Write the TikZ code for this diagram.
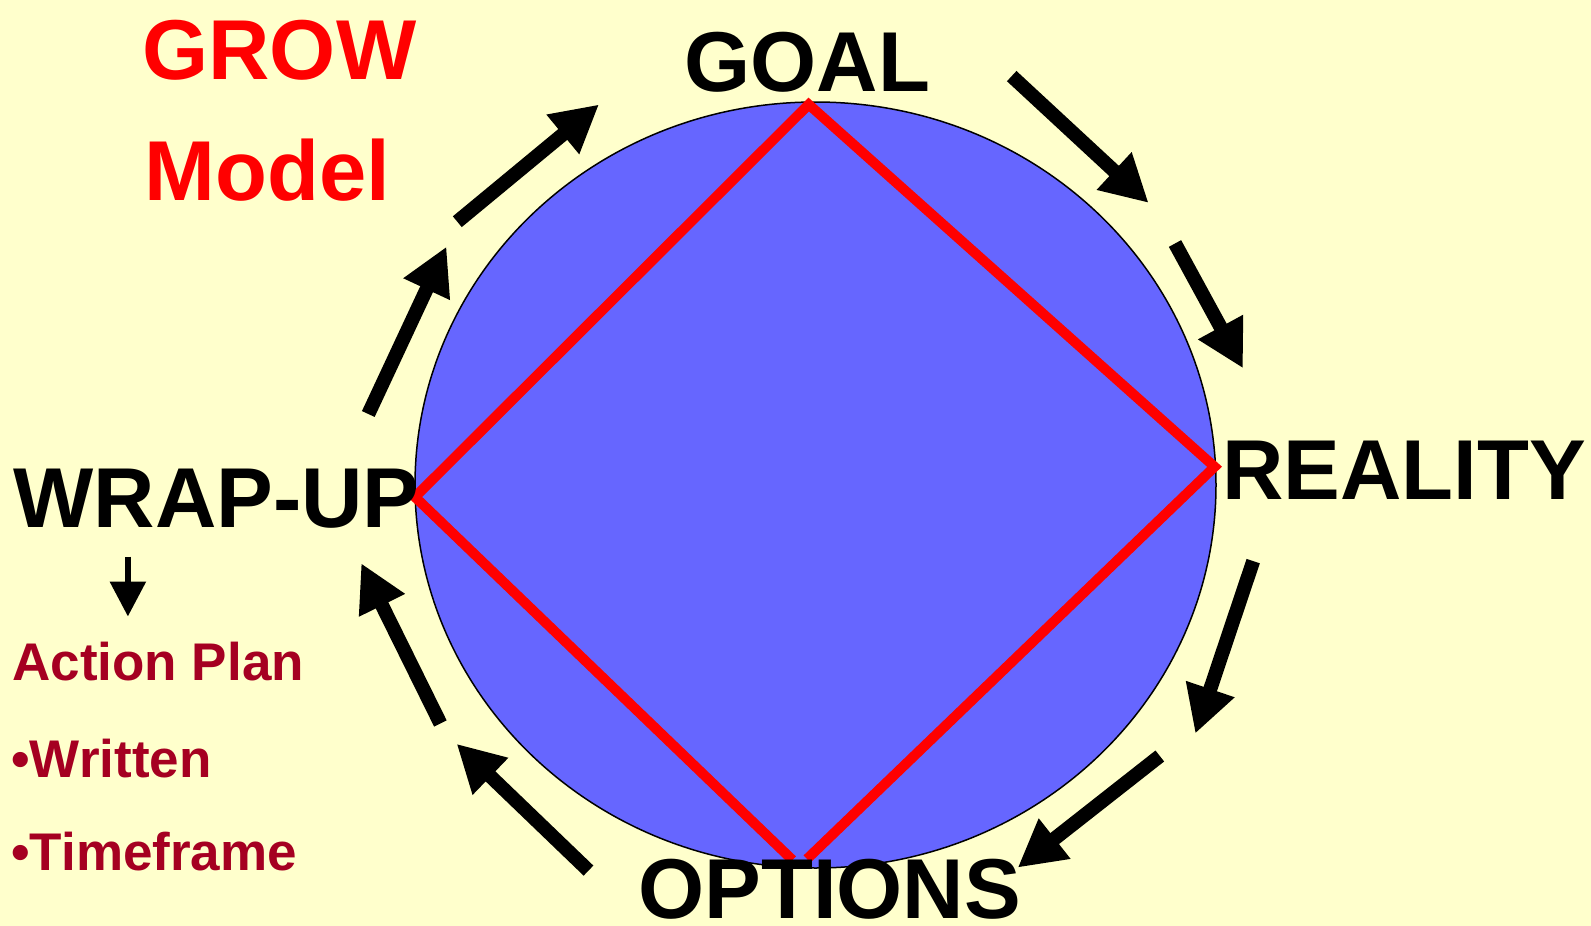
\documentclass[tikz,border=0pt]{standalone}
\usepackage{fontspec}
\setmainfont{Liberation Sans}
\usetikzlibrary{arrows.meta}
\definecolor{bgyellow}{HTML}{FFFFCC}
\definecolor{discblue}{HTML}{6666FF}
\definecolor{diamred}{HTML}{FF0000}
\definecolor{planred}{HTML}{A50021}
\tikzset{
  bigword/.style={anchor=base west, inner sep=0pt, font=\fontsize{42.5}{50}\selectfont\bfseries},
  titleword/.style={bigword, text=diamred},
  planword/.style={anchor=base west, inner sep=0pt, text=planred, font=\fontsize{26.5}{32}\selectfont\bfseries},
  cyclearrow/.style={line width=7pt, -{Triangle[length=23.5pt,width=24pt]}},
  smallarrow/.style={line width=3pt, -{Triangle[length=17.5pt,width=17.5pt]}},
  diamline/.style={draw=diamred, line width=5pt, line join=miter}
}
\begin{document}
\begin{tikzpicture}[x=0.5pt,y=-0.5pt]
\useasboundingbox (0,0) rectangle (1591,926);
\fill[bgyellow] (0,0) rectangle (1591,926);
% disc
\filldraw[fill=discblue, draw=black, line width=0.75pt] (815.5,485) ellipse [x radius=400.5, y radius=383];
% diamond
\coordinate (dl) at (415,497);
\coordinate (dt) at (808.7,104.5);
\coordinate (dr) at (1214.6,466.8);
\coordinate (dbl) at (792.5,860);
\coordinate (dbr) at (807,859);
\draw[diamline] (dbl) -- (dl) -- (dt) -- (dr) -- (dbr);
% texts
\node[titleword] (grow) at (142,79) {GROW};
\node[titleword] (model) at (144,200) {Model};
\node[bigword] (goal) at (684,91.3) {GOAL};
\node[bigword] (reality) at (1222,499) {REALITY};
\node[bigword] (wrapup) at (13,527.6) {WRAP-UP};
\node[bigword] (options) at (638,918) {OPTIONS};
\node[planword] (action) at (12,680) {Action Plan};
\node[planword] (written) at (11,777) {•Written};
\node[planword] (timeframe) at (11,870.6) {•Timeframe};
% cycle arrows
\coordinate (a1s) at (457.3,221.7); \coordinate (a1e) at (599,104.5);
\coordinate (a2s) at (368.3,414);   \coordinate (a2e) at (446.5,246.6);
\coordinate (a3s) at (1011.7,76.1); \coordinate (a3e) at (1148.6,202.9);
\coordinate (a4s) at (1175,243.5);  \coordinate (a4e) at (1243,368.3);
\coordinate (a5s) at (1253.2,561.1);\coordinate (a5e) at (1195.3,733.6);
\coordinate (a6s) at (1159.8,756);  \coordinate (a6e) at (1017.7,867.6);
\coordinate (a7s) at (588.5,870.6); \coordinate (a7e) at (456.6,743.8);
\coordinate (a8s) at (440.4,723.5); \coordinate (a8e) at (361.2,563.2);
\foreach \i in {1,...,8} \draw[cyclearrow] (a\i s) -- (a\i e);
% small arrow
\coordinate (sas) at (127.9,556.5);
\coordinate (sae) at (127.9,616.5);
\draw[smallarrow] (sas) -- (sae);
\end{tikzpicture}
\end{document}
